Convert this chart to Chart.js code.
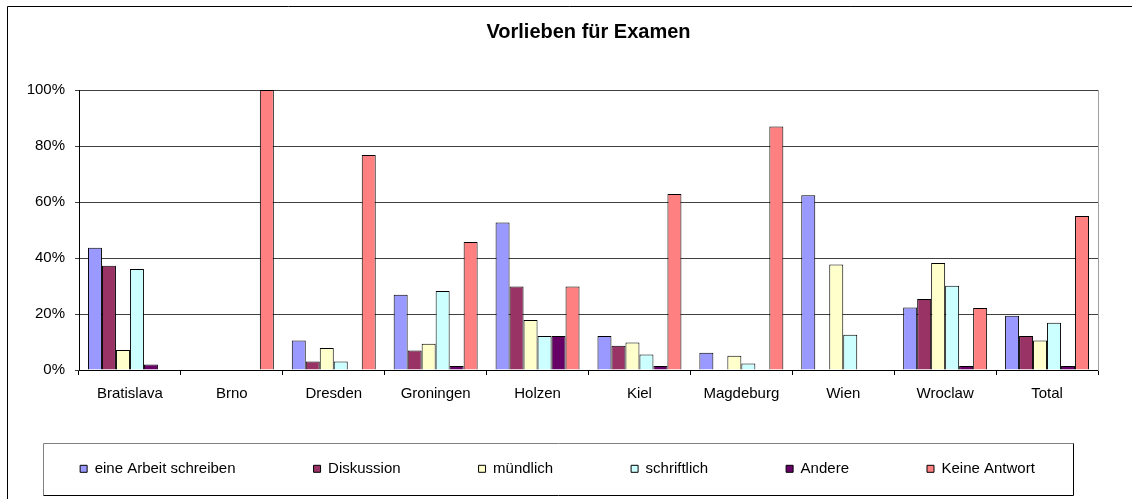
<!DOCTYPE html>
<html>
<head>
<meta charset="utf-8">
<script src="https://cdn.jsdelivr.net/npm/chart.js@4/dist/chart.umd.min.js"></script>
<style>
  body { margin: 0; background: #fff; }
  #wrap { width: 1135px; height: 499px; }
</style>
</head>
<body>
<div id="wrap"><canvas id="chart"></canvas></div>
<script>
// categories and series (percent)
const categories = ["Bratislava", "Brno", "Dresden", "Groningen", "Holzen", "Kiel", "Magdeburg", "Wien", "Wroclaw", "Total"];
const arbeit = [43.7, 0, 10.5, 26.9, 52.7, 12.1, 6.2, 62.4, 22.3, 19.4];
const diskussion = [37.2, 0, 3.0, 7.0, 29.8, 8.7, 0, 0, 25.4, 12.1];
const muendlich = [7.1, 0, 7.9, 9.4, 17.9, 9.8, 5.1, 37.7, 38.2, 10.5];
const schriftlich = [36.1, 0, 3.0, 28.2, 12.1, 5.5, 2.3, 12.6, 30.1, 16.9];
const andere = [2.0, 0, 0, 1.4, 12.1, 1.4, 0, 0, 1.4, 1.4];
const keine = [0, 100, 76.8, 45.7, 29.8, 62.9, 87.0, 0, 22.1, 55.0];
const yTicks = [0, 20, 40, 60, 80, 100];

Chart.defaults.font.family = "'Liberation Sans', Arial, sans-serif";
Chart.defaults.color = "#000";

function ds(label, data, color) {
  return {
    label: label,
    data: data,
    backgroundColor: color,
    borderColor: "#000",
    borderWidth: 1,
    categoryPercentage: 0.824,
    barPercentage: 1
  };
}

//outer frame and legend box
const decor = {
  id: "decor",
  beforeDraw(chart) {
    const c = chart.ctx;
    c.save();
    c.fillStyle = "#fff";
    c.fillRect(0, 0, chart.width, chart.height);
    c.strokeStyle = "#000";
    c.lineWidth = 1;
    c.beginPath();
    c.moveTo(7.5, chart.height);
    c.lineTo(7.5, 6.5);
    c.lineTo(1132, 6.5);
    c.stroke();
    c.restore();
  },
  afterDraw(chart) {
    const c = chart.ctx;
    const hb = chart.legend.legendHitBoxes;
    const first = hb[0], last = hb[hb.length - 1];
    const cx = (first.left + last.left + last.width) / 2;
    const cy = first.top + first.height / 2;
    const l = Math.round(cx - 515) + 0.5, r = Math.round(cx + 515) + 0.5;
    const t = Math.round(cy - 25.5) + 0.5, b = Math.round(cy + 26) + 0.5;
    c.save();
    c.lineWidth = 1;
    c.strokeStyle = "#808080";
    c.beginPath();
    c.moveTo(l, b);
    c.lineTo(l, t);
    c.lineTo(r, t);
    c.stroke();
    c.strokeStyle = "#000";
    c.beginPath();
    c.moveTo(r, t);
    c.lineTo(r, b);
    c.lineTo(l, b);
    c.stroke();
    c.restore();
  }
};

const legendPad = 78;
const padBottom = 12.7;

new Chart(document.getElementById("chart").getContext("2d"), {
  type: "bar",
  data: {
    labels: categories,
    datasets: [
      ds("eine Arbeit schreiben", arbeit, "#9999FF"),
      ds("Diskussion", diskussion, "#993366"),
      ds("mündlich", muendlich, "#FFFFCC"),
      ds("schriftlich", schriftlich, "#CCFFFF"),
      ds("Andere", andere, "#660066"),
      ds("Keine Antwort", keine, "#FF8080")
    ]
  },
  options: {
    responsive: true,
    maintainAspectRatio: false,
    animation: false,
    layout: { padding: { left: 0, right: 20, top: 0, bottom: padBottom } },
    plugins: {
      title: {
        display: true,
        fullSize: false,
        text: "Vorlieben für Examen",
        color: "#000",
        font: { size: 20, weight: "bold" },
        padding: { top: 20, bottom: 46 }
      },
      legend: {
        position: "bottom",
        labels: {
          boxWidth: 7,
          boxHeight: 7,
          padding: legendPad,
          color: "#000",
          font: { size: 15 }
        }
      },
      tooltip: { enabled: false }
    },
    scales: {
      x: {
        grid: {
          display: true,
          offset: true,
          drawOnChartArea: false,
          drawTicks: true,
          tickLength: 5,
          color: "#000"
        },
        border: { color: "#000", width: 1 },
        ticks: {
          font: { size: 15 },
          color: "#000",
          padding: 9.5,
          maxRotation: 0,
          autoSkip: false
        },
        afterFit(scale) {
          // keep plot bottom at 370, labels may run into the legend band
          scale.height = 499 - padBottom - (15 + legendPad + 10) - 370;
          scale._computeLabelArea = () => undefined;
        }
      },
      y: {
        min: 0,
        max: 100,
        afterBuildTicks(scale) {
          scale.ticks = yTicks.map(v => ({ value: v }));
        },
        grid: {
          color: "#404040",
          drawTicks: true,
          tickLength: 4
        },
        border: { color: "#000", width: 1 },
        ticks: {
          font: { size: 15 },
          color: "#000",
          padding: 10,
          callback: v => v + "%"
        },
        afterFit(scale) {
          scale.width = 79;
        }
      },
      yRight: {
        position: "right",
        min: 0,
        max: 100,
        grid: { drawOnChartArea: false, drawTicks: false },
        border: { color: "#a0a0a0", width: 1 },
        ticks: { display: false },
        afterFit(scale) {
          scale.width = 17;
        }
      }
    }
  },
  plugins: [decor]
});
</script>
</body>
</html>
